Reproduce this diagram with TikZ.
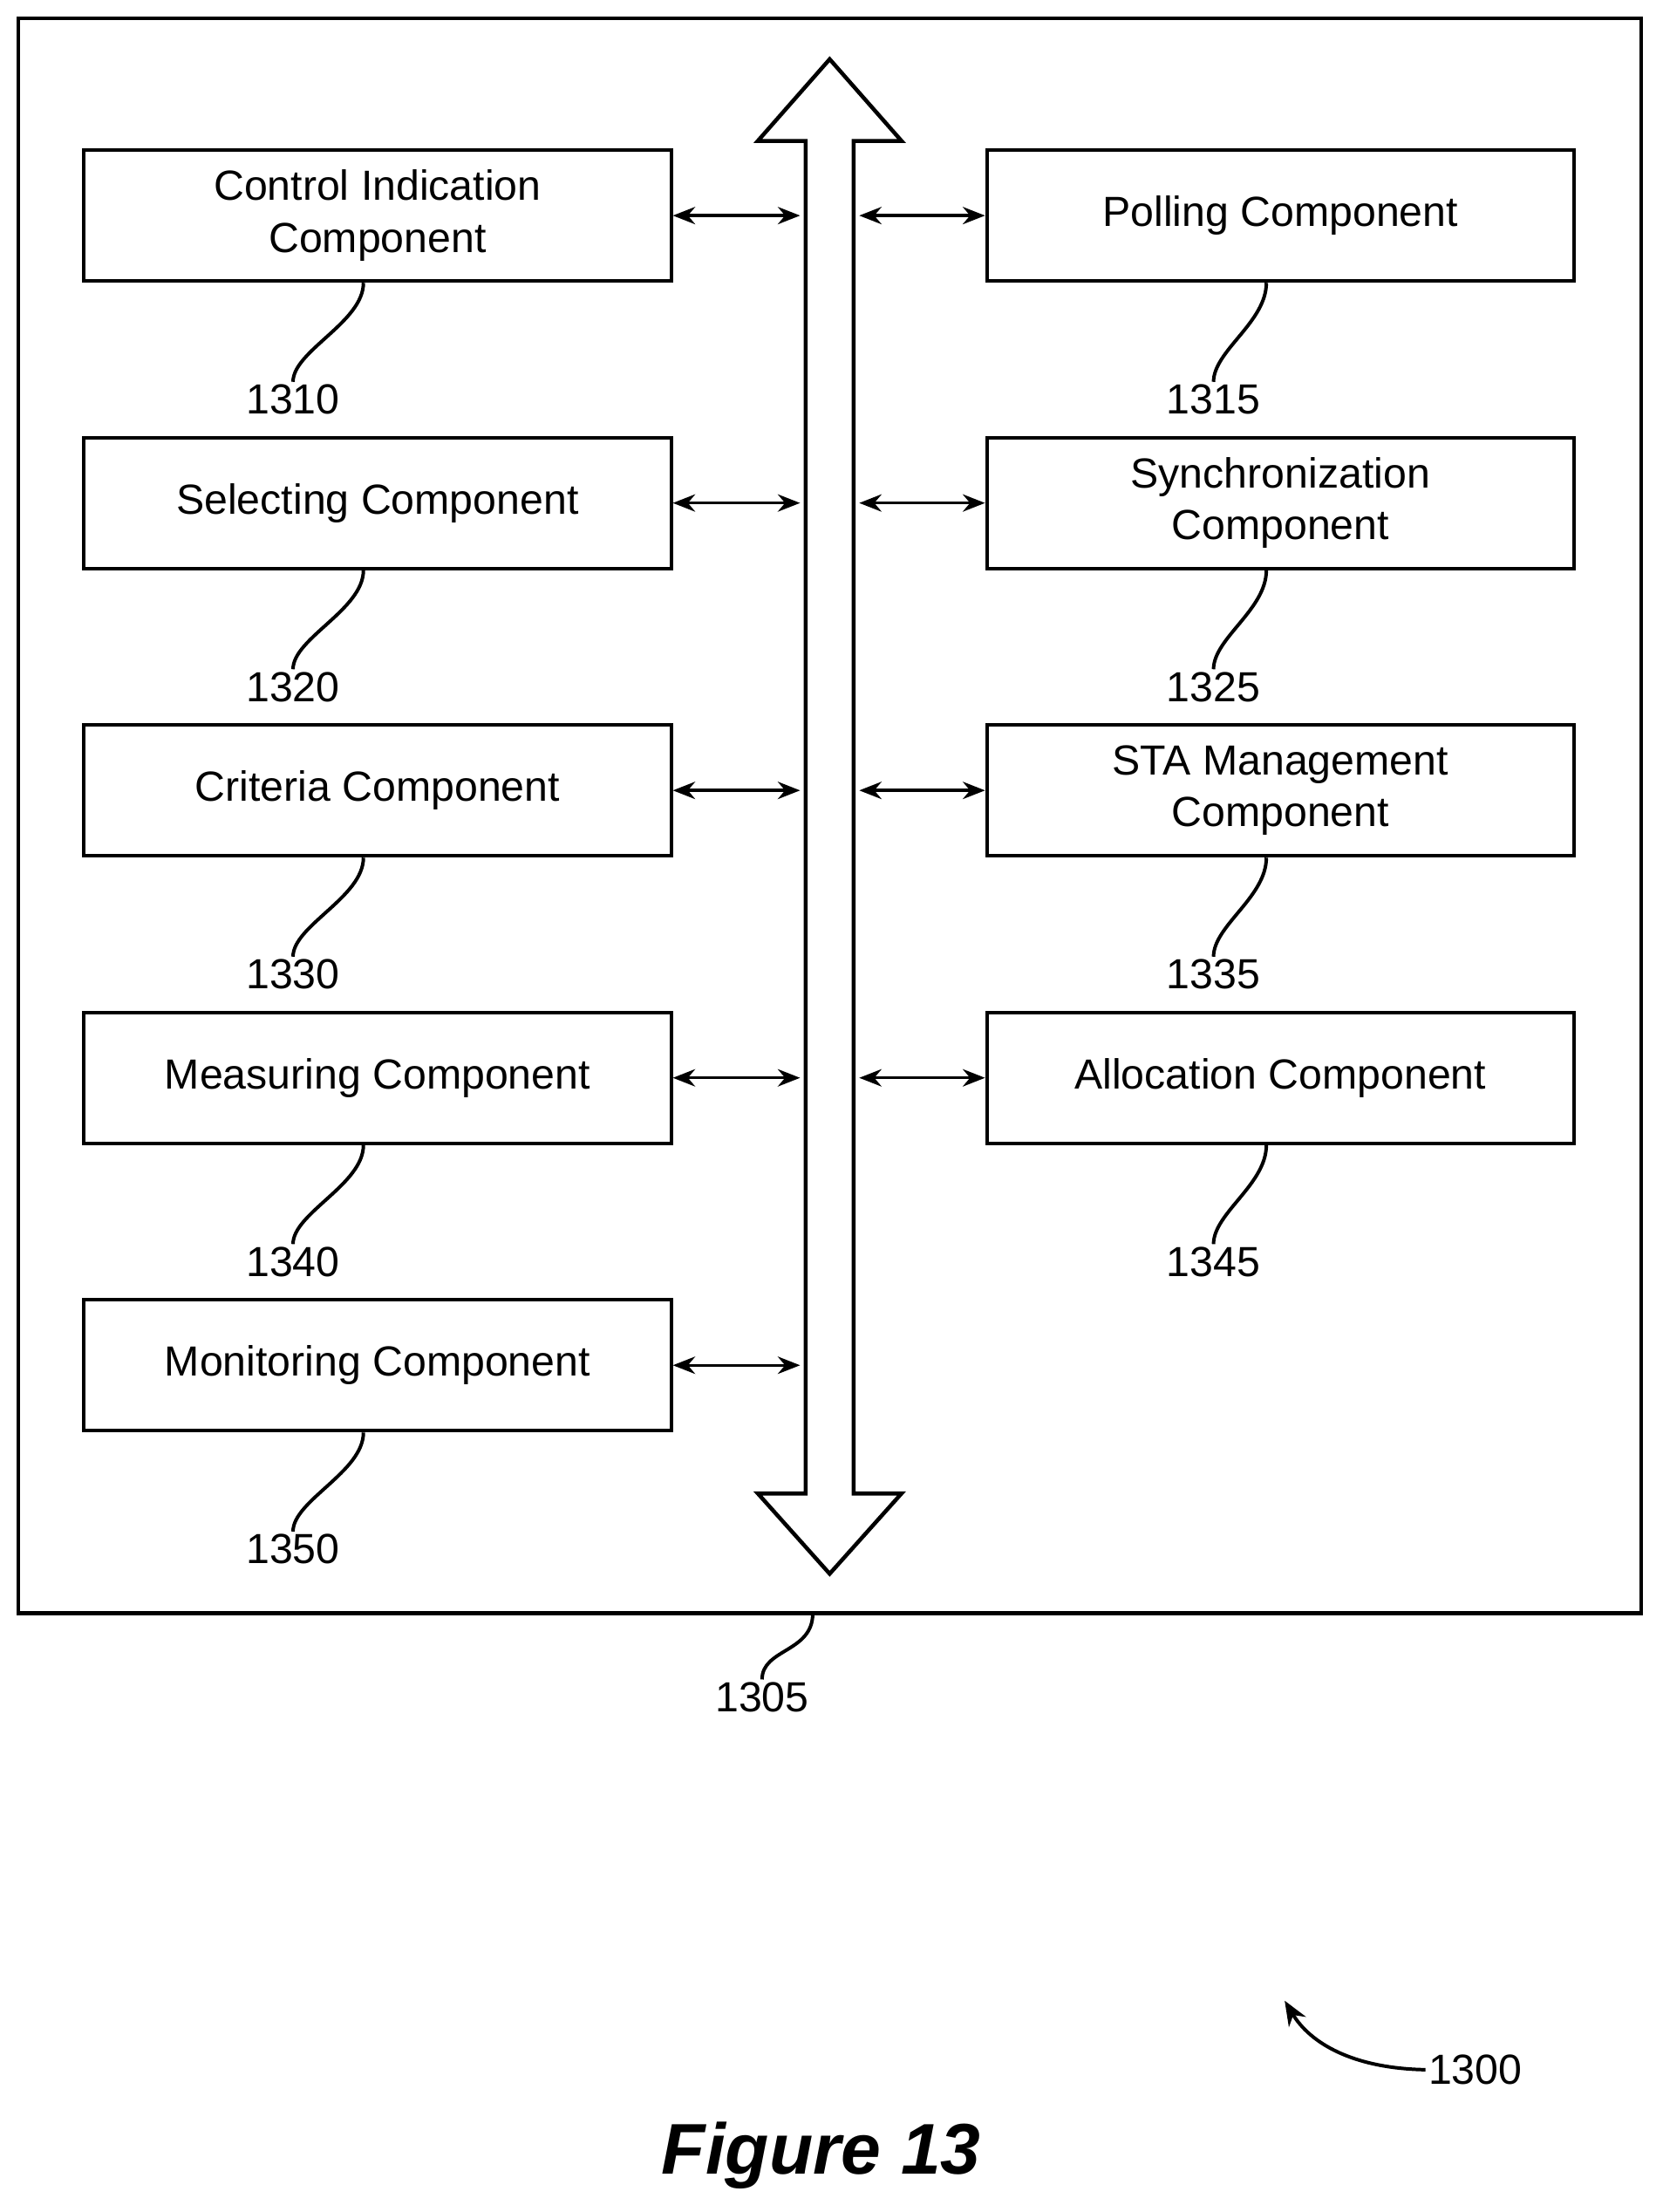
\documentclass[tikz,border=0pt]{standalone}
\usepackage{fontspec}
\setmainfont{Liberation Sans}
\usetikzlibrary{arrows.meta,positioning}
\tikzset{
    comp/.style={draw, line width=1.4pt, minimum width=8.34cm, minimum height=1.86cm,
        align=center, font=\fontsize{17}{21}\selectfont},
    refnum/.style={font=\fontsize{17}{21}\selectfont, inner sep=1pt},
    leader/.style={line width=1.4pt},
    link/.style={line width=1.2pt, {Stealth[length=9pt,width=7pt]}-{Stealth[length=9pt,width=7pt]}}
}
\begin{document}
\begin{tikzpicture}[x=0.02cm, y=-0.02cm]
    \useasboundingbox (0,0) rectangle (1180,1570);
    % frame
    \draw[line width=1.6pt] (13,13) rectangle (1165,1145);
    % bus
    \draw[line width=1.6pt, fill=white] (572,100) -- (538,100) -- (589,42) -- (640,100) -- (606,100)
        -- (606,1060) -- (640,1060) -- (589,1117) -- (538,1060) -- (572,1060) -- cycle;
    \coordinate (busL) at (568,0);
    \coordinate (busR) at (610,0);

    % components
    \node[comp] (c1310) at (268,153) {Control Indication\\Component};
    \node[comp] (c1320) at (268,357) {Selecting Component};
    \node[comp] (c1330) at (268,561) {Criteria Component};
    \node[comp] (c1340) at (268,765) {Measuring Component};
    \node[comp] (c1350) at (268,969) {Monitoring Component};
    \node[comp] (c1315) at (909,153) {Polling Component};
    \node[comp] (c1325) at (909,357) {Synchronization\\Component};
    \node[comp] (c1335) at (909,561) {STA Management\\Component};
    \node[comp] (c1345) at (909,765) {Allocation Component};

    \foreach \n in {1310,1320,1330,1340,1350} {
        \draw[link] (c\n.east) -- (c\n.east -| busL);
        \node[refnum, below=40pt of c\n.south, xshift=-1.2cm, anchor=north] (l\n) {\n};
        \draw[leader] ([xshift=-0.2cm]c\n.south) .. controls +(0,28) and +(0,-22) .. (l\n.north);
    }
    \foreach \n in {1315,1325,1335,1345} {
        \draw[link] (c\n.west) -- (c\n.west -| busR);
        \node[refnum, below=40pt of c\n.south, xshift=-0.95cm, anchor=north] (l\n) {\n};
        \draw[leader] ([xshift=-0.2cm]c\n.south) .. controls +(0,28) and +(0,-22) .. (l\n.north);
    }

    % frame label
    \coordinate (f1305) at (577,1145);
    \node[refnum, anchor=north] (l1305) at (541,1192) {1305};
    \draw[leader] (f1305) .. controls +(0,28) and +(0,-22) .. (l1305.north);

    % figure label
    \node[refnum, anchor=west] (l1300) at (1012,1469) {1300};
    \coordinate (p1300) at (912,1420);
    \draw[leader, -{Stealth[length=10pt,width=8pt]}] (l1300.west) .. controls (960,1468) and (930,1450) .. (p1300);

    \node[font=\fontsize{29}{34}\selectfont\bfseries\itshape] (fig) at (583,1530) {Figure 13};
\end{tikzpicture}
\end{document}
